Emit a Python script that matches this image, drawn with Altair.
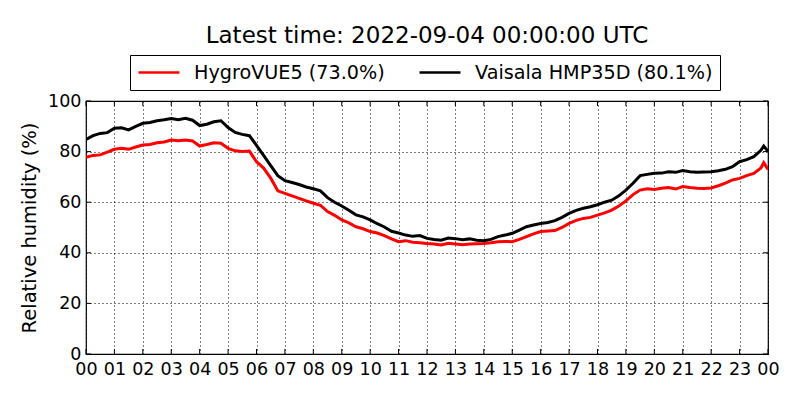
import altair as alt
import pandas as pd

hours = [0.0, 0.25, 0.5, 0.75, 1.0, 1.25, 1.5, 1.75, 2.0, 2.25, 2.5, 2.75,
         3.0, 3.25, 3.5, 3.75, 4.0, 4.25, 4.5, 4.75, 5.0, 5.25, 5.5, 5.75,
         6.0, 6.25, 6.5, 6.75, 7.0, 7.25, 7.5, 7.75, 8.0, 8.25, 8.5, 8.75,
         9.0, 9.25, 9.5, 9.75, 10.0, 10.25, 10.5, 10.75, 11.0, 11.25, 11.5, 11.75,
         12.0, 12.25, 12.5, 12.75, 13.0, 13.25, 13.5, 13.75, 14.0, 14.25, 14.5, 14.75,
         15.0, 15.25, 15.5, 15.75, 16.0, 16.25, 16.5, 16.75, 17.0, 17.25, 17.5, 17.75,
         18.0, 18.25, 18.5, 18.75, 19.0, 19.25, 19.5, 19.75, 20.0, 20.25, 20.5, 20.75,
         21.0, 21.25, 21.5, 21.75, 22.0, 22.25, 22.5, 22.75, 23.0, 23.25, 23.5, 23.75,
         23.85, 24.0]

vaisala = [84.8, 86.3, 87.2, 87.5, 89.2, 89.4, 88.6, 90.0, 91.2, 91.5, 92.2, 92.6,
           93.1, 92.6, 93.2, 92.4, 90.3, 90.8, 91.8, 92.2, 89.5, 87.6, 86.8, 86.3,
           82.5, 78.5, 74.5, 70.5, 68.5, 67.8, 67.0, 66.0, 65.3, 64.5, 61.8, 60.0,
           58.5, 56.8, 55.0, 54.2, 53.0, 51.5, 50.2, 48.5, 47.8, 47.0, 46.5, 46.8,
           45.7, 45.3, 45.0, 45.8, 45.6, 45.2, 45.5, 45.0, 44.8, 45.3, 46.4, 47.0,
           47.7, 49.0, 50.3, 51.0, 51.6, 52.0, 52.7, 54.0, 55.6, 56.8, 57.6, 58.2,
           59.0, 60.0, 60.8, 62.5, 64.8, 67.5, 70.5, 71.0, 71.4, 71.5, 72.0, 71.8,
           72.5, 72.0, 71.8, 71.9, 72.0, 72.4, 73.0, 74.0, 76.0, 76.8, 78.0, 80.5,
           82.2, 80.1]

hygrovue = [77.7, 78.5, 78.7, 79.8, 80.9, 81.3, 80.9, 81.8, 82.6, 82.8, 83.5, 83.8,
            84.6, 84.3, 84.6, 84.2, 82.2, 82.8, 83.5, 83.3, 81.3, 80.3, 80.0, 80.2,
            76.0, 73.5, 69.5, 64.5, 63.5, 62.5, 61.5, 60.5, 59.6, 58.8, 56.3, 54.8,
            53.0, 51.8, 50.3, 49.5, 48.4, 47.8, 46.8, 45.5, 44.4, 44.8, 44.2, 44.0,
            43.7, 43.5, 43.1, 43.8, 43.5, 43.2, 43.5, 43.6, 43.7, 44.0, 44.4, 44.5,
            44.4, 45.3, 46.4, 47.5, 48.4, 48.6, 48.8, 50.0, 51.6, 52.8, 53.6, 54.0,
            54.9, 55.8, 56.9, 58.5, 60.5, 63.0, 64.8, 65.3, 65.0, 65.5, 65.8, 65.2,
            66.2, 65.8, 65.5, 65.4, 65.6, 66.5, 67.5, 68.8, 69.4, 70.5, 71.4, 73.5,
            75.6, 73.0]

series_names = ["HygroVUE5 (73.0%)", "Vaisala HMP35D (80.1%)"]
series_colors = ["#ff0000", "#000000"]
x_ticks = list(range(0, 25))
y_ticks = [0, 20, 40, 60, 80, 100]
title_text = "Latest time: 2022-09-04 00:00:00 UTC"
y_title = "Relative humidity (%)"

rows = []
for h, v in zip(hours, hygrovue):
    rows.append({"hour": h, "rh": v, "sensor": series_names[0]})
for h, v in zip(hours, vaisala):
    rows.append({"hour": h, "rh": v, "sensor": series_names[1]})
df = pd.DataFrame(rows)

W, H = 682, 253
FONT = "DejaVu Sans"

xscale = alt.Scale(domain=[0, 24], nice=False, zero=False)
yscale = alt.Scale(domain=[0, 100], nice=False)

x_axis = alt.Axis(values=x_ticks, labelExpr="format(datum.value % 24, '02')",
                  title=None, tickSize=0, labelPadding=6,
                  labelFontSize=17.5, labelFont=FONT, labelColor="black",
                  grid=True, gridColor="black", gridDash=[1, 3], gridWidth=1,
                  gridOpacity=1, domain=False, labelFlush=False, labelOverlap=False)
y_axis = alt.Axis(values=y_ticks, title=y_title, tickSize=0, labelPadding=5,
                  labelFontSize=17.5, labelFont=FONT, labelColor="black",
                  titleFont=FONT, titleFontSize=19.5, titleFontWeight="normal",
                  titleColor="black", titleX=-57, titleY=H / 2,
                  titleBaseline="middle", titleAngle=-90, titleAlign="center",
                  grid=True, gridColor="black", gridDash=[1, 3], gridWidth=1,
                  gridOpacity=1, domain=False, labelFlush=False, labelOverlap=False)

lines = alt.Chart(df).mark_line(strokeWidth=3, clip=True).encode(
    x=alt.X("hour:Q", scale=xscale, axis=x_axis),
    y=alt.Y("rh:Q", scale=yscale, axis=y_axis),
    color=alt.Color("sensor:N",
                    scale=alt.Scale(domain=series_names, range=series_colors),
                    legend=alt.Legend(title=None, orient="none", legendX=44, legendY=-46,
                                      direction="horizontal", symbolType="stroke",
                                      symbolSize=1681, symbolStrokeWidth=2.5,
                                      clipHeight=21,
                                      labelFontSize=19.2, labelFont=FONT, labelColor="black",
                                      labelOffset=13, columnPadding=33, padding=7,
                                      strokeColor="black", fillColor="white",
                                      cornerRadius=0, labelLimit=400)),
    order=alt.Order("sensor:N"),
)

ytick_df = pd.DataFrame({"v": y_ticks})
xtick_df = pd.DataFrame({"h": x_ticks})

ytick_left = alt.Chart(ytick_df).mark_rule(color="black", strokeWidth=1).encode(
    y=alt.Y("v:Q", scale=yscale, axis=y_axis), x=alt.value(0), x2=alt.value(5))
ytick_right = alt.Chart(ytick_df).mark_rule(color="black", strokeWidth=1).encode(
    y=alt.Y("v:Q", scale=yscale, axis=y_axis), x=alt.value(W - 5), x2=alt.value(W))
xtick_bottom = alt.Chart(xtick_df).mark_rule(color="black", strokeWidth=1).encode(
    x=alt.X("h:Q", scale=xscale, axis=x_axis), y=alt.value(H - 5), y2=alt.value(H))
xtick_top = alt.Chart(xtick_df).mark_rule(color="black", strokeWidth=1).encode(
    x=alt.X("h:Q", scale=xscale, axis=x_axis), y=alt.value(0), y2=alt.value(5))

chart = alt.layer(lines, ytick_left, ytick_right, xtick_bottom, xtick_top).properties(
    width=W, height=H,
    title=alt.TitleParams(title_text, fontSize=23, font=FONT, fontWeight="normal",
                          color="black", anchor="middle", offset=7),
    autosize=alt.AutoSizeParams(type="none"),
    padding={"left": 78, "top": 93, "right": 24, "bottom": 38},
    background="white",
).configure_view(stroke="black", strokeWidth=1.2)

chart.save("out.html", embed_options={"renderer": "svg", "actions": False})
